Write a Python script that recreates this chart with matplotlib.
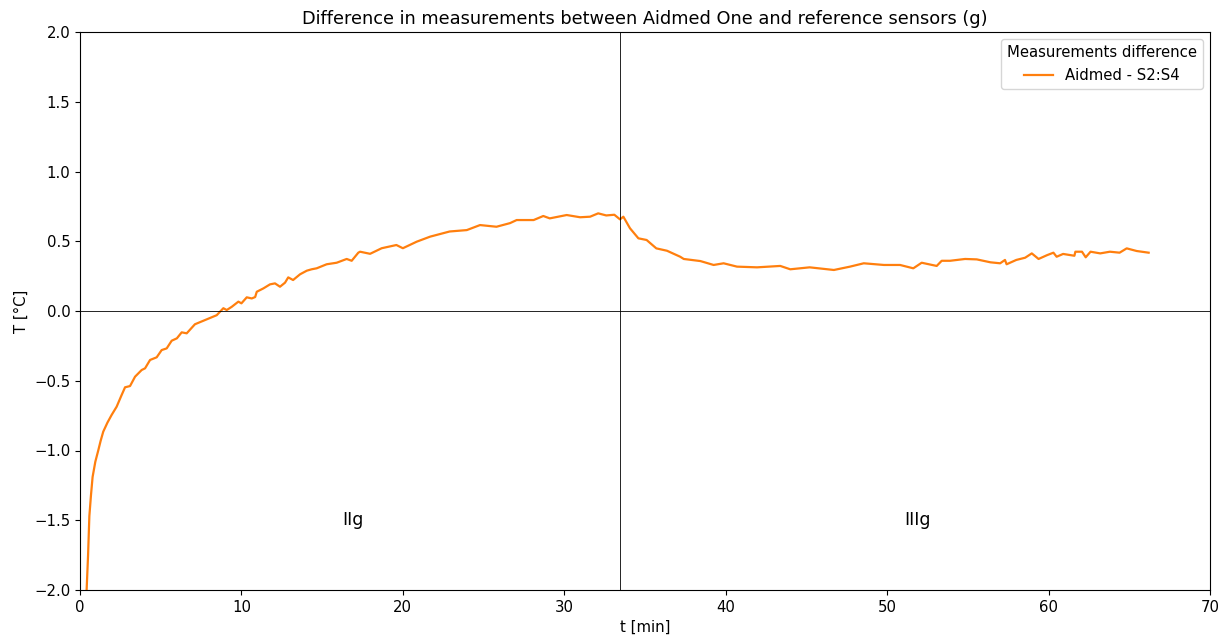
import matplotlib.pyplot as plt
import numpy as np

# values (t in minutes, difference in degC)
t = [0.41, 0.50, 0.58, 0.68, 0.78, 0.95, 1.13, 1.28, 1.44, 1.70, 1.96, 2.27, 2.55, 2.79,
     3.10, 3.41, 3.82, 4.03, 4.34, 4.75, 5.06, 5.37, 5.68, 6.00, 6.30, 6.61, 7.12, 7.43,
     7.74, 8.05, 8.47, 8.88, 9.09, 9.40, 9.81, 10.00, 10.33, 10.64, 10.85, 10.95, 11.36,
     11.77, 12.08, 12.39, 12.70, 12.90, 13.20, 13.63, 14.05, 14.35, 14.66, 15.28, 15.90,
     16.52, 16.83, 17.24, 17.35, 17.97, 18.69, 19.60, 20.00, 20.86, 21.69, 22.90, 23.96,
     24.78, 25.80, 26.64, 27.05, 28.10, 28.70, 29.10, 30.15, 30.98, 31.60, 32.10, 32.60,
     33.10, 33.45, 33.66, 34.07, 34.59, 35.10, 35.70, 36.36, 37.18, 37.40, 38.43, 39.25,
     39.87, 40.70, 41.94, 43.38, 44.00, 45.20, 46.70, 47.70, 48.55, 49.80, 50.80, 51.62,
     52.14, 53.07, 53.38, 53.90, 54.83, 55.55, 56.40, 57.00, 57.30, 57.40, 58.00, 58.55,
     58.96, 59.38, 59.90, 60.30, 60.50, 60.90, 61.60, 61.66, 62.07, 62.30, 62.60, 63.20,
     63.80, 64.40, 64.84, 65.46, 66.20]
diff = [-2.00, -1.75, -1.47, -1.32, -1.19, -1.08, -1.00, -0.93, -0.865, -0.80, -0.745, -0.686, -0.61, -0.547,
        -0.538, -0.471, -0.423, -0.411, -0.351, -0.332, -0.280, -0.268, -0.213, -0.196, -0.153, -0.160, -0.095, -0.080,
        -0.065, -0.050, -0.030, 0.020, 0.007, 0.030, 0.067, 0.055, 0.098, 0.090, 0.100, 0.138, 0.162,
        0.191, 0.198, 0.174, 0.203, 0.241, 0.222, 0.263, 0.289, 0.299, 0.306, 0.335, 0.346,
        0.373, 0.360, 0.418, 0.425, 0.410, 0.450, 0.473, 0.450, 0.497, 0.533, 0.570, 0.580,
        0.616, 0.604, 0.630, 0.652, 0.652, 0.681, 0.664, 0.688, 0.672, 0.676, 0.700, 0.685,
        0.690, 0.657, 0.676, 0.593, 0.521, 0.509, 0.449, 0.432, 0.389, 0.373, 0.358, 0.330,
        0.342, 0.318, 0.313, 0.323, 0.299, 0.313, 0.294, 0.318, 0.342, 0.330, 0.330, 0.306,
        0.346, 0.323, 0.360, 0.360, 0.373, 0.370, 0.349, 0.342, 0.366, 0.335, 0.366, 0.382,
        0.413, 0.373, 0.400, 0.418, 0.389, 0.409, 0.396, 0.425, 0.425, 0.385, 0.425, 0.413,
        0.425, 0.418, 0.449, 0.430, 0.418]

split_t = 33.45
labels = ['IIg', 'IIIg']
label_t = [16.9, 51.9]
label_y = -1.5

plt.rcParams['font.size'] = 10.7

fig, ax = plt.subplots(figsize=(12.29, 6.4), dpi=100)
fig.subplots_adjust(left=80/1229, right=1210/1229, top=1-32/640, bottom=1-590/640)

ax.plot(t, diff, color='#ff7f0e', linewidth=1.6, label='Aidmed - S2:S4')
ax.axhline(0, color='black', linewidth=0.6)
ax.axvline(split_t, color='black', linewidth=0.6)

for lab, xt in zip(labels, label_t):
    ax.text(xt, label_y, lab, ha='center', va='center', fontsize=12.5)

ax.set_xlim(0, 70)
ax.set_ylim(-2, 2)
ax.set_xlabel('t [min]')
ax.set_ylabel('T [°C]')
ax.set_title('Difference in measurements between Aidmed One and reference sensors (g)', fontsize=12.8)
ax.legend(title='Measurements difference', loc='upper right')

plt.savefig('out.png', dpi=100)
